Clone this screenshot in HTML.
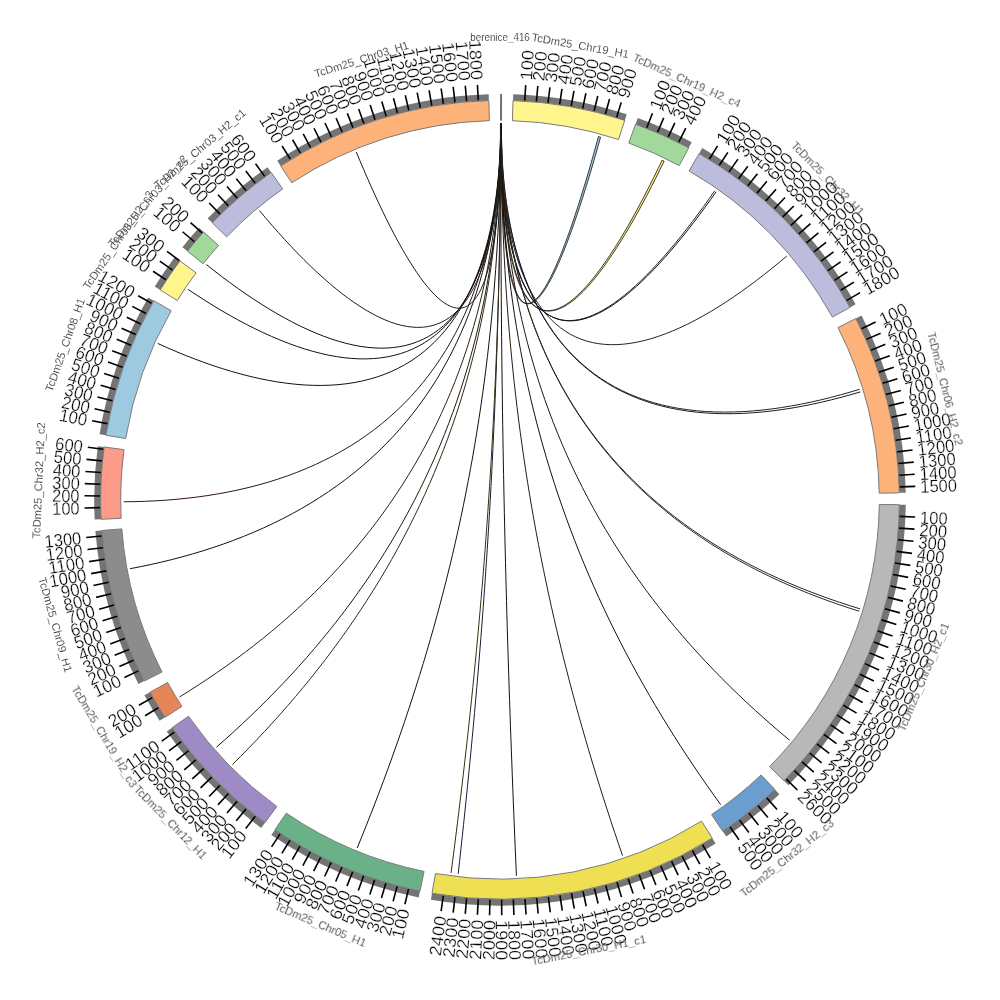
<!DOCTYPE html>
<html><head><meta charset="utf-8"><title>circos</title><style>html,body{margin:0;padding:0;background:#fff}svg{display:block}</style></head><body>
<svg width="1000" height="1000" viewBox="0 0 1000 1000">
<rect width="1000" height="1000" fill="#fff"/>
<path d="M500.46 123.5L500.47 132.93L500.52 142.33L500.62 151.68L500.77 160.94L500.97 170.09L501.22 179.1L501.52 187.95L501.88 196.61L502.31 205.06L502.79 213.27L503.33 221.23L503.93 228.92L504.6 236.31L505.34 243.4L506.14 250.15L507 256.56L507.94 262.61L508.94 268.28L510.01 273.57L511.14 278.46L512.35 282.94L513.63 287.01L514.97 290.64L516.38 293.84L517.86 296.6L519.4 298.9L521.01 300.76L522.69 302.16L524.43 303.09L526.24 303.57L528.1 303.58L530.03 303.14L532.01 302.23L534.05 300.86L536.15 299.04L538.3 296.77L540.5 294.05L542.75 290.9L545.05 287.32L547.39 283.31L549.77 278.89L552.19 274.07L554.65 268.85L557.14 263.26L559.66 257.3L562.21 251L564.78 244.36L567.36 237.4L569.97 230.14L572.58 222.6L575.2 214.8L577.83 206.76L580.45 198.5L583.07 190.05L585.68 181.42L588.27 172.64L590.85 163.74L593.4 154.75L595.92 145.69L598.41 136.6L600.56 137.19L598.02 146.27L595.45 155.31L592.84 164.29L590.21 173.17L587.56 181.93L584.9 190.55L582.22 198.99L579.55 207.23L576.87 215.26L574.19 223.04L571.53 230.57L568.87 237.81L566.24 244.75L563.62 251.38L561.03 257.67L558.46 263.61L555.93 269.18L553.43 274.38L550.97 279.19L548.54 283.6L546.16 287.59L543.83 291.16L541.54 294.3L539.31 297L537.13 299.26L535 301.07L532.93 302.42L530.92 303.32L528.97 303.76L527.08 303.73L525.26 303.24L523.5 302.3L521.81 300.89L520.19 299.02L518.63 296.71L517.14 293.94L515.72 290.74L514.38 287.09L513.1 283.02L511.89 278.53L510.75 273.64L509.68 268.34L508.69 262.66L507.76 256.6L506.9 250.19L506.11 243.43L505.39 236.35L504.73 228.95L504.14 221.26L503.61 213.29L503.15 205.08L502.75 196.62L502.41 187.96L502.12 179.11L501.89 170.1L501.72 160.95L501.6 151.69L501.52 142.34L501.49 132.93L501.51 123.5Z" fill="#9ecae1" stroke="#111" stroke-width="0.8" stroke-linejoin="round"/>
<path d="M500.46 123.5L500.48 132.98L500.58 142.45L500.75 151.86L501 161.19L501.33 170.42L501.75 179.52L502.26 188.47L502.87 197.24L503.57 205.81L504.37 214.16L505.26 222.27L506.27 230.11L507.38 237.68L508.59 244.95L509.91 251.9L511.34 258.53L512.89 264.81L514.54 270.73L516.31 276.28L518.18 281.45L520.18 286.22L522.28 290.59L524.49 294.55L526.82 298.09L529.26 301.2L531.8 303.88L534.46 306.12L537.22 307.93L540.09 309.28L543.06 310.19L546.13 310.66L549.31 310.67L552.58 310.24L555.94 309.36L559.39 308.05L562.94 306.29L566.56 304.11L570.27 301.49L574.05 298.46L577.91 295.01L581.84 291.16L585.83 286.92L589.88 282.29L593.98 277.29L598.13 271.94L602.33 266.24L606.57 260.21L610.83 253.86L615.13 247.22L619.44 240.29L623.77 233.11L628.1 225.68L632.43 218.03L636.76 210.18L641.07 202.16L645.35 193.98L649.61 185.66L653.83 177.25L658 168.76L662.12 160.21L664.13 161.18L659.96 169.7L655.74 178.17L651.47 186.56L647.16 194.85L642.82 203L638.46 211L634.09 218.83L629.7 226.45L625.32 233.85L620.94 241.01L616.58 247.91L612.24 254.53L607.93 260.85L603.65 266.85L599.41 272.53L595.22 277.86L591.07 282.83L586.98 287.44L582.95 291.66L578.99 295.48L575.1 298.91L571.28 301.92L567.54 304.51L563.89 306.68L560.32 308.41L556.84 309.71L553.45 310.56L550.16 310.97L546.96 310.94L543.87 310.46L540.88 309.53L538 308.16L535.22 306.34L532.56 304.08L530 301.39L527.56 298.26L525.22 294.71L523.01 290.73L520.9 286.35L518.91 281.56L517.04 276.38L515.27 270.82L513.63 264.89L512.09 258.6L510.67 251.97L509.36 245.01L508.15 237.73L507.06 230.16L506.07 222.31L505.19 214.19L504.41 205.84L503.73 197.26L503.14 188.49L502.66 179.54L502.26 170.43L501.95 161.2L501.72 151.86L501.58 142.45L501.51 132.99L501.51 123.5Z" fill="#fff176" stroke="#111" stroke-width="0.8" stroke-linejoin="round"/>
<g fill="none" stroke-width="1" stroke-linejoin="round">
<path d="M500.62 123.5L500.65 133.05L500.78 142.59L501 152.09L501.33 161.52L501.77 170.85L502.33 180.07L503.01 189.15L503.8 198.06L504.73 206.79L505.78 215.31L506.97 223.61L508.3 231.66L509.76 239.45L511.37 246.96L513.11 254.17L515 261.08L517.04 267.65L519.23 273.89L521.56 279.78L524.04 285.3L526.67 290.46L529.45 295.23L532.37 299.6L535.45 303.58L538.67 307.15L542.03 310.31L545.54 313.06L549.19 315.38L552.98 317.27L556.9 318.74L560.97 319.78L565.16 320.4L569.48 320.58L573.93 320.34L578.49 319.67L583.18 318.58L587.97 317.08L592.88 315.16L597.89 312.84L602.99 310.12L608.18 307.01L613.47 303.51L618.83 299.64L624.26 295.41L629.76 290.84L635.32 285.92L640.93 280.68L646.59 275.12L652.28 269.28L658 263.15L663.74 256.77L669.5 250.14L675.25 243.28L681 236.22L686.73 228.98L692.43 221.58L698.09 214.03L703.71 206.37L709.27 198.62L714.76 190.8" stroke="#1b2a1b"/>
<path d="M501.13 123.5L501.15 133.06L501.26 142.6L501.47 152.09L501.79 161.53L502.22 170.86L502.77 180.09L503.43 189.17L504.22 198.09L505.14 206.82L506.19 215.35L507.37 223.65L508.69 231.71L510.15 239.5L511.76 247.02L513.5 254.24L515.39 261.15L517.43 267.74L519.62 273.99L521.95 279.89L524.44 285.42L527.07 290.59L529.85 295.37L532.79 299.76L535.87 303.75L539.1 307.34L542.47 310.51L545.99 313.27L549.66 315.61L553.46 317.52L557.41 319.01L561.48 320.07L565.7 320.7L570.04 320.91L574.5 320.68L579.09 320.04L583.8 318.97L588.62 317.49L593.55 315.59L598.58 313.29L603.71 310.6L608.93 307.51L614.24 304.04L619.64 300.19L625.1 295.99L630.63 291.43L636.22 286.54L641.87 281.33L647.56 275.8L653.29 269.98L659.04 263.88L664.82 257.52L670.6 250.92L676.39 244.09L682.18 237.05L687.94 229.84L693.68 222.46L699.38 214.94L705.04 207.3L710.63 199.57L716.16 191.78" stroke="#111"/>
<path d="M500.84 123.5L500.88 133.21L501.05 142.91L501.35 152.59L501.79 162.23L502.37 171.79L503.11 181.26L504.01 190.62L505.07 199.84L506.3 208.9L507.7 217.8L509.28 226.5L511.04 234.98L512.98 243.25L515.11 251.27L517.43 259.03L519.94 266.53L522.65 273.73L525.55 280.64L528.64 287.25L531.94 293.53L535.42 299.48L539.11 305.09L542.99 310.35L547.07 315.26L551.34 319.8L555.81 323.98L560.47 327.78L565.31 331.2L570.35 334.24L575.56 336.9L580.96 339.16L586.53 341.04L592.27 342.53L598.18 343.63L604.25 344.34L610.48 344.67L616.86 344.62L623.39 344.18L630.05 343.37L636.85 342.19L643.77 340.65L650.81 338.75L657.96 336.5L665.21 333.91L672.55 330.98L679.98 327.74L687.48 324.19L695.04 320.33L702.66 316.19L710.32 311.78L718.01 307.11L725.73 302.19L733.45 297.04L741.17 291.69L748.88 286.13L756.56 280.4L764.2 274.52L771.79 268.49L779.3 262.35L786.74 256.11" stroke="#1a2433"/>
<path d="M501.35 123.5L501.39 133.54L501.59 143.61L501.95 153.69L502.49 163.76L503.21 173.8L504.13 183.79L505.23 193.72L506.55 203.58L508.06 213.33L509.8 222.97L511.75 232.49L513.92 241.86L516.32 251.08L518.95 260.13L521.82 269L524.92 277.68L528.26 286.15L531.85 294.4L535.67 302.43L539.74 310.22L544.05 317.77L548.61 325.06L553.4 332.1L558.45 338.86L563.73 345.35L569.26 351.55L575.02 357.47L581.02 363.09L587.25 368.42L593.71 373.45L600.39 378.17L607.3 382.59L614.43 386.7L621.76 390.49L629.3 393.98L637.04 397.15L644.98 400.01L653.1 402.56L661.41 404.81L669.88 406.74L678.52 408.37L687.31 409.7L696.25 410.73L705.32 411.47L714.53 411.92L723.85 412.09L733.27 411.98L742.79 411.6L752.39 410.96L762.06 410.07L771.79 408.93L781.57 407.55L791.38 405.94L801.2 404.12L811.03 402.09L820.85 399.87L830.64 397.46L840.39 394.89L850.08 392.15L859.7 389.28" stroke="#222"/>
<path d="M501.06 123.5L501.11 133.55L501.31 143.63L501.69 153.71L502.24 163.79L502.97 173.84L503.89 183.85L505.01 193.79L506.33 203.65L507.86 213.42L509.6 223.08L511.57 232.61L513.75 242L516.17 251.24L518.81 260.31L521.69 269.2L524.8 277.9L528.16 286.39L531.75 294.67L535.59 302.73L539.68 310.55L544 318.13L548.57 325.45L553.39 332.52L558.45 339.32L563.75 345.84L569.29 352.09L575.07 358.04L581.08 363.71L587.33 369.08L593.81 374.15L600.51 378.92L607.44 383.39L614.58 387.55L621.94 391.39L629.5 394.93L637.26 398.16L645.21 401.08L653.36 403.69L661.68 405.99L670.17 407.98L678.83 409.67L687.65 411.06L696.61 412.16L705.71 412.96L714.93 413.48L724.27 413.71L733.72 413.67L743.26 413.36L752.89 412.78L762.58 411.96L772.34 410.89L782.14 409.58L791.97 408.04L801.82 406.29L811.68 404.33L821.52 402.17L831.34 399.84L841.12 397.33L850.84 394.66L860.49 391.85" stroke="#1a1a2a"/>
<path d="M500.77 123.5L500.82 134.21L501.04 144.98L501.41 155.8L501.96 166.67L502.69 177.56L503.61 188.47L504.71 199.39L506.02 210.31L507.52 221.22L509.23 232.1L511.16 242.95L513.3 253.75L515.66 264.51L518.24 275.21L521.05 285.84L524.09 296.39L527.36 306.86L530.86 317.24L534.6 327.52L538.58 337.69L542.79 347.75L547.24 357.69L551.92 367.5L556.85 377.18L562.01 386.73L567.41 396.12L573.04 405.38L578.9 414.47L585 423.41L591.32 432.19L597.87 440.8L604.64 449.23L611.63 457.5L618.83 465.58L626.25 473.49L633.87 481.21L641.69 488.74L649.71 496.09L657.92 503.25L666.31 510.21L674.88 516.98L683.62 523.55L692.53 529.93L701.58 536.12L710.79 542.1L720.14 547.89L729.62 553.48L739.22 558.88L748.93 564.08L758.75 569.09L768.65 573.9L778.64 578.53L788.71 582.96L798.83 587.2L809 591.26L819.2 595.14L829.43 598.83L839.68 602.35L849.92 605.7L860.14 608.88" stroke="#1a2630"/>
<path d="M501.27 123.5L501.31 134.22L501.51 145L501.87 155.83L502.41 166.7L503.12 177.6L504.02 188.52L505.11 199.45L506.39 210.38L507.88 221.3L509.58 232.19L511.48 243.06L513.61 253.88L515.95 264.65L518.51 275.37L521.3 286.02L524.32 296.59L527.57 307.08L531.05 317.48L534.77 327.78L538.72 337.98L542.91 348.07L547.34 358.03L552.01 367.88L556.91 377.59L562.04 387.16L567.42 396.6L573.03 405.88L578.87 415.02L584.94 423.99L591.24 432.81L597.76 441.46L604.51 449.94L611.48 458.25L618.66 466.38L626.05 474.33L633.64 482.1L641.44 489.68L649.44 497.08L657.62 504.29L665.99 511.31L674.54 518.13L683.25 524.77L692.13 531.2L701.17 537.44L710.35 543.49L719.68 549.34L729.13 555L738.71 560.46L748.4 565.72L758.2 570.79L768.08 575.67L778.05 580.36L788.09 584.86L798.2 589.17L808.35 593.3L818.54 597.25L828.75 601.01L838.98 604.6L849.2 608.02L859.41 611.26" stroke="#3a2414"/>
<path d="M500.99 123.5L501.02 134.75L501.18 146.06L501.47 157.44L501.89 168.87L502.46 180.35L503.18 191.88L504.04 203.44L505.06 215.03L506.24 226.65L507.58 238.28L509.09 249.92L510.77 261.57L512.62 273.22L514.64 284.86L516.84 296.49L519.22 308.11L521.78 319.7L524.52 331.26L527.45 342.79L530.56 354.29L533.86 365.74L537.35 377.14L541.02 388.49L544.88 399.79L548.93 411.02L553.16 422.19L557.59 433.29L562.19 444.32L566.98 455.26L571.96 466.13L577.11 476.91L582.45 487.61L587.96 498.21L593.65 508.71L599.51 519.12L605.54 529.43L611.74 539.63L618.1 549.72L624.62 559.71L631.3 569.58L638.13 579.33L645.11 588.97L652.23 598.48L659.48 607.88L666.88 617.15L674.39 626.29L682.04 635.3L689.79 644.19L697.66 652.94L705.64 661.56L713.71 670.04L721.87 678.39L730.11 686.6L738.43 694.67L746.82 702.61L755.28 710.4L763.78 718.05L772.33 725.57L780.91 732.94L789.53 740.17" stroke="#2a1410"/>
<path d="M500.7 123.5L500.72 135.11L500.84 146.78L501.06 158.5L501.39 170.29L501.82 182.12L502.36 193.99L503.02 205.91L503.79 217.86L504.68 229.85L505.69 241.87L506.82 253.91L508.08 265.97L509.47 278.04L511 290.13L512.65 302.23L514.43 314.33L516.36 326.44L518.41 338.54L520.61 350.64L522.95 362.73L525.42 374.8L528.04 386.86L530.79 398.9L533.69 410.92L536.72 422.91L539.9 434.87L543.22 446.8L546.68 458.69L550.28 470.54L554.02 482.36L557.89 494.12L561.91 505.84L566.06 517.51L570.34 529.13L574.76 540.69L579.31 552.19L583.99 563.63L588.79 575.01L593.73 586.32L598.78 597.56L603.96 608.73L609.25 619.83L614.66 630.85L620.18 641.79L625.81 652.66L631.55 663.44L637.39 674.13L643.32 684.74L649.35 695.26L655.47 705.69L661.68 716.03L667.97 726.27L674.33 736.42L680.77 746.47L687.28 756.42L693.85 766.26L700.48 776.01L707.16 785.65L713.88 795.19L720.65 804.62" stroke="#111"/>
<path d="M501.2 123.5L501.19 135.54L501.23 147.63L501.33 159.75L501.48 171.91L501.69 184.11L501.96 196.34L502.3 208.6L502.7 220.89L503.16 233.21L503.69 245.55L504.29 257.92L504.95 270.31L505.69 282.72L506.5 295.15L507.38 307.59L508.33 320.05L509.35 332.52L510.45 345L511.63 357.48L512.88 369.98L514.21 382.48L515.61 394.98L517.09 407.48L518.65 419.99L520.29 432.49L522 444.98L523.8 457.47L525.67 469.95L527.61 482.43L529.64 494.89L531.74 507.34L533.92 519.77L536.18 532.19L538.51 544.59L540.92 556.97L543.4 569.33L545.96 581.67L548.59 593.98L551.29 606.27L554.07 618.53L556.91 630.76L559.83 642.96L562.81 655.13L565.86 667.26L568.98 679.36L572.16 691.42L575.4 703.44L578.71 715.43L582.08 727.37L585.5 739.27L588.98 751.12L592.51 762.93L596.1 774.69L599.74 786.41L603.43 798.07L607.16 809.69L610.94 821.25L614.76 832.75L618.62 844.2L622.51 855.6" stroke="#2a1810"/>
<path d="M500.91 123.5L500.89 135.98L500.87 148.46L500.86 160.95L500.85 173.44L500.86 185.94L500.87 198.45L500.89 210.96L500.92 223.48L500.96 236L501.01 248.52L501.07 261.06L501.13 273.59L501.21 286.13L501.29 298.68L501.39 311.23L501.5 323.78L501.61 336.33L501.74 348.89L501.87 361.45L502.02 374.01L502.18 386.58L502.35 399.14L502.52 411.71L502.71 424.28L502.91 436.85L503.12 449.42L503.34 462L503.58 474.57L503.82 487.14L504.07 499.72L504.34 512.29L504.61 524.86L504.9 537.43L505.2 550.01L505.5 562.58L505.82 575.14L506.15 587.71L506.49 600.28L506.84 612.84L507.2 625.4L507.57 637.96L507.95 650.51L508.34 663.06L508.75 675.61L509.16 688.16L509.58 700.7L510.01 713.24L510.45 725.77L510.9 738.3L511.36 750.82L511.83 763.34L512.3 775.85L512.79 788.36L513.28 800.86L513.79 813.36L514.3 825.85L514.81 838.33L515.34 850.81L515.87 863.28L516.41 875.74" stroke="#111"/>
<path d="M500.62 123.5L500.59 135.88L500.55 148.27L500.48 160.69L500.4 173.11L500.29 185.55L500.17 198L500.03 210.46L499.86 222.94L499.68 235.43L499.47 247.92L499.24 260.43L498.98 272.95L498.71 285.48L498.41 298.01L498.09 310.56L497.74 323.11L497.37 335.67L496.98 348.23L496.56 360.8L496.11 373.37L495.64 385.95L495.15 398.53L494.63 411.12L494.08 423.7L493.51 436.29L492.92 448.88L492.3 461.48L491.65 474.07L490.97 486.66L490.28 499.25L489.55 511.84L488.8 524.43L488.02 537.01L487.22 549.59L486.39 562.17L485.54 574.74L484.66 587.31L483.76 599.88L482.83 612.43L481.88 624.98L480.9 637.53L479.9 650.06L478.88 662.59L477.83 675.11L476.76 687.62L475.67 700.12L474.55 712.61L473.41 725.09L472.25 737.55L471.07 750.01L469.86 762.45L468.64 774.88L467.4 787.29L466.14 799.69L464.85 812.08L463.55 824.45L462.24 836.81L460.9 849.14L459.55 861.47L458.18 873.77" stroke="#1a1a3a"/>
<path d="M501.13 123.5L501.08 135.85L501.01 148.23L500.93 160.61L500.81 173.02L500.68 185.44L500.52 197.87L500.34 210.32L500.14 222.79L499.91 235.26L499.65 247.75L499.37 260.25L499.07 272.76L498.73 285.28L498.37 297.82L497.98 310.36L497.57 322.9L497.12 335.46L496.65 348.02L496.15 360.59L495.62 373.16L495.06 385.74L494.47 398.32L493.86 410.91L493.21 423.5L492.53 436.09L491.83 448.68L491.09 461.27L490.33 473.86L489.53 486.46L488.7 499.05L487.85 511.63L486.96 524.22L486.05 536.8L485.1 549.38L484.13 561.95L483.12 574.52L482.09 587.09L481.03 599.64L479.94 612.19L478.82 624.73L477.67 637.26L476.5 649.79L475.29 662.3L474.07 674.8L472.81 687.29L471.53 699.77L470.22 712.24L468.88 724.7L467.52 737.14L466.14 749.56L464.73 761.97L463.3 774.37L461.84 786.75L460.37 799.11L458.87 811.46L457.35 823.79L455.81 836.1L454.25 848.39L452.67 860.66L451.08 872.91" stroke="#33300f"/>
<path d="M500.84 123.5L500.78 135.47L500.67 147.48L500.48 159.53L500.24 171.62L499.92 183.76L499.53 195.93L499.08 208.13L498.55 220.37L497.94 232.64L497.26 244.93L496.5 257.24L495.66 269.58L494.73 281.94L493.73 294.32L492.64 306.72L491.47 319.12L490.22 331.54L488.87 343.97L487.45 356.4L485.93 368.84L484.33 381.28L482.63 393.72L480.85 406.17L478.98 418.6L477.02 431.03L474.97 443.46L472.83 455.87L470.6 468.27L468.28 480.66L465.88 493.03L463.38 505.39L460.8 517.73L458.13 530.04L455.37 542.33L452.52 554.6L449.59 566.84L446.58 579.05L443.48 591.23L440.29 603.37L437.03 615.49L433.69 627.56L430.26 639.6L426.76 651.6L423.19 663.56L419.53 675.47L415.81 687.34L412.02 699.17L408.15 710.94L404.22 722.67L400.22 734.35L396.17 745.97L392.05 757.54L387.87 769.05L383.64 780.51L379.35 791.91L375.01 803.24L370.63 814.52L366.2 825.73L361.72 836.88L357.21 847.96" stroke="#111"/>
<path d="M501.35 123.5L501.25 134.88L501.04 146.32L500.7 157.83L500.24 169.39L499.65 181L498.93 192.66L498.07 204.35L497.06 216.08L495.91 227.83L494.62 239.61L493.17 251.4L491.56 263.21L489.8 275.02L487.89 286.83L485.81 298.64L483.56 310.44L481.15 322.23L478.58 334L475.84 345.75L472.92 357.47L469.84 369.16L466.59 380.82L463.17 392.43L459.57 404.01L455.81 415.53L451.87 427L447.77 438.42L443.49 449.78L439.05 461.07L434.44 472.3L429.66 483.46L424.72 494.55L419.61 505.56L414.34 516.49L408.92 527.34L403.34 538.1L397.6 548.77L391.71 559.36L385.68 569.85L379.5 580.24L373.18 590.53L366.72 600.72L360.13 610.8L353.41 620.78L346.56 630.66L339.6 640.42L332.52 650.06L325.32 659.6L318.03 669.01L310.63 678.31L303.14 687.49L295.56 696.55L287.9 705.48L280.16 714.29L272.35 722.98L264.48 731.54L256.56 739.97L248.59 748.27L240.57 756.44L232.53 764.49" stroke="#2c2c10"/>
<path d="M501.06 123.5L500.97 134.79L500.75 146.14L500.41 157.56L499.93 169.03L499.31 180.55L498.56 192.12L497.65 203.72L496.59 215.35L495.38 227.01L494.02 238.68L492.48 250.37L490.79 262.07L488.93 273.76L486.9 285.45L484.69 297.14L482.31 308.8L479.76 320.45L477.03 332.07L474.12 343.67L471.03 355.23L467.76 366.75L464.3 378.22L460.67 389.65L456.85 401.02L452.85 412.34L448.67 423.59L444.31 434.78L439.77 445.9L435.04 456.95L430.14 467.92L425.07 478.81L419.82 489.62L414.39 500.33L408.8 510.96L403.04 521.49L397.11 531.93L391.02 542.27L384.77 552.5L378.36 562.63L371.8 572.65L365.1 582.56L358.25 592.35L351.26 602.03L344.13 611.59L336.88 621.03L329.49 630.35L321.99 639.55L314.38 648.62L306.66 657.56L298.83 666.38L290.91 675.06L282.9 683.61L274.8 692.03L266.63 700.32L258.39 708.47L250.09 716.48L241.74 724.36L233.34 732.1L224.9 739.71L216.43 747.17" stroke="#2a1414"/>
<path d="M500.77 123.5L500.68 134.55L500.45 145.68L500.07 156.86L499.54 168.1L498.86 179.38L498.01 190.7L496.99 202.04L495.8 213.41L494.44 224.79L492.89 236.17L491.16 247.55L489.24 258.93L487.13 270.29L484.82 281.62L482.32 292.93L479.61 304.2L476.71 315.43L473.6 326.61L470.29 337.74L466.77 348.81L463.04 359.82L459.11 370.75L454.97 381.61L450.62 392.39L446.06 403.08L441.3 413.68L436.33 424.19L431.15 434.59L425.78 444.9L420.2 455.09L414.42 465.18L408.44 475.14L402.27 484.99L395.9 494.72L389.35 504.31L382.61 513.78L375.69 523.12L368.59 532.32L361.32 541.39L353.88 550.31L346.28 559.1L338.52 567.73L330.61 576.22L322.55 584.57L314.35 592.76L306.01 600.8L297.55 608.68L288.96 616.42L280.27 623.99L271.46 631.42L262.56 638.68L253.57 645.79L244.5 652.74L235.36 659.53L226.15 666.16L216.89 672.64L207.58 678.96L198.24 685.12L188.87 691.13L179.5 696.98" stroke="#2a2410"/>
<path d="M501.27 123.5L501.16 134.08L500.88 144.71L500.44 155.4L499.81 166.11L499 176.84L498 187.58L496.8 198.32L495.4 209.04L493.79 219.73L491.97 230.39L489.93 241L487.66 251.55L485.17 262.03L482.45 272.43L479.5 282.74L476.31 292.96L472.88 303.07L469.21 313.07L465.3 322.95L461.14 332.7L456.74 342.31L452.1 351.78L447.21 361.1L442.08 370.26L436.71 379.26L431.09 388.09L425.24 396.75L419.14 405.22L412.81 413.52L406.25 421.63L399.45 429.54L392.43 437.26L385.19 444.78L377.72 452.1L370.04 459.21L362.16 466.11L354.07 472.81L345.78 479.29L337.3 485.56L328.63 491.61L319.79 497.45L310.78 503.08L301.6 508.48L292.27 513.67L282.79 518.65L273.18 523.41L263.43 527.96L253.57 532.29L243.6 536.42L233.53 540.33L223.38 544.04L213.15 547.55L202.86 550.85L192.51 553.96L182.12 556.88L171.71 559.6L161.28 562.14L150.86 564.5L140.45 566.68L130.06 568.7" stroke="#111"/>
<path d="M500.99 123.5L500.88 133.87L500.61 144.28L500.16 154.73L499.53 165.19L498.71 175.66L497.7 186.12L496.49 196.55L495.06 206.94L493.42 217.28L491.56 227.56L489.48 237.76L487.17 247.88L484.62 257.89L481.84 267.79L478.82 277.58L475.55 287.23L472.04 296.74L468.29 306.09L464.28 315.29L460.02 324.33L455.52 333.18L450.76 341.85L445.75 350.33L440.49 358.62L434.99 366.69L429.23 374.56L423.23 382.21L416.99 389.65L410.5 396.85L403.78 403.83L396.82 410.57L389.63 417.07L382.21 423.34L374.58 429.36L366.72 435.13L358.66 440.66L350.39 445.94L341.92 450.97L333.26 455.75L324.42 460.28L315.4 464.56L306.21 468.59L296.86 472.37L287.36 475.91L277.72 479.2L267.95 482.25L258.05 485.06L248.05 487.63L237.94 489.97L227.74 492.08L217.47 493.96L207.13 495.63L196.74 497.08L186.31 498.32L175.86 499.36L165.39 500.21L154.93 500.86L144.48 501.34L134.07 501.64L123.71 501.77" stroke="#301510"/>
<path d="M500.7 123.5L500.61 133.42L500.36 143.37L499.96 153.31L499.39 163.23L498.65 173.11L497.72 182.92L496.61 192.66L495.31 202.29L493.8 211.81L492.1 221.2L490.18 230.43L488.05 239.5L485.7 248.4L483.14 257.1L480.35 265.59L477.33 273.86L474.09 281.9L470.61 289.69L466.91 297.24L462.97 304.51L458.8 311.52L454.4 318.24L449.77 324.66L444.9 330.8L439.81 336.62L434.49 342.13L428.94 347.33L423.17 352.2L417.18 356.75L410.97 360.97L404.54 364.85L397.91 368.4L391.07 371.61L384.04 374.49L376.81 377.02L369.39 379.22L361.79 381.09L354.01 382.62L346.07 383.81L337.96 384.68L329.71 385.22L321.31 385.44L312.78 385.35L304.12 384.94L295.34 384.23L286.46 383.22L277.48 381.93L268.42 380.35L259.29 378.5L250.09 376.39L240.85 374.03L231.57 371.42L222.27 368.59L212.96 365.54L203.66 362.29L194.37 358.84L185.12 355.22L175.91 351.44L166.78 347.51L157.72 343.45" stroke="#111"/>
<path d="M501.2 123.5L501.1 133.29L500.87 143.09L500.49 152.87L499.95 162.61L499.26 172.3L498.4 181.9L497.37 191.4L496.16 200.78L494.77 210.02L493.19 219.1L491.42 228L489.45 236.72L487.29 245.22L484.92 253.5L482.35 261.54L479.58 269.33L476.59 276.86L473.39 284.11L469.98 291.07L466.36 297.73L462.53 304.09L458.48 310.12L454.22 315.83L449.75 321.21L445.07 326.24L440.19 330.93L435.09 335.27L429.79 339.24L424.29 342.86L418.6 346.11L412.71 349L406.62 351.52L400.36 353.66L393.91 355.44L387.28 356.85L380.49 357.9L373.53 358.57L366.42 358.89L359.15 358.84L351.74 358.45L344.19 357.7L336.52 356.61L328.73 355.18L320.82 353.42L312.82 351.34L304.72 348.95L296.54 346.25L288.29 343.26L279.98 340L271.62 336.46L263.22 332.66L254.79 328.62L246.36 324.35L237.92 319.87L229.49 315.18L221.09 310.32L212.73 305.28L204.42 300.1L196.19 294.79L188.03 289.38" stroke="#111"/>
<path d="M500.91 123.5L500.83 133.23L500.61 142.96L500.26 152.67L499.76 162.33L499.11 171.93L498.31 181.43L497.34 190.82L496.21 200.09L494.9 209.2L493.42 218.14L491.75 226.89L489.91 235.44L487.87 243.76L485.64 251.85L483.22 259.68L480.61 267.25L477.8 274.54L474.79 281.54L471.58 288.23L468.16 294.61L464.55 300.66L460.74 306.38L456.72 311.75L452.51 316.78L448.1 321.45L443.49 325.75L438.69 329.69L433.7 333.25L428.51 336.44L423.14 339.24L417.59 341.67L411.85 343.71L405.95 345.36L399.87 346.63L393.63 347.52L387.22 348.03L380.67 348.16L373.96 347.92L367.12 347.3L360.14 346.32L353.03 344.98L345.8 343.28L338.47 341.24L331.02 338.86L323.49 336.15L315.87 333.12L308.17 329.78L300.41 326.15L292.6 322.23L284.74 318.03L276.84 313.58L268.93 308.88L261 303.96L253.08 298.82L245.17 293.49L237.29 287.97L229.45 282.3L221.67 276.49L213.96 270.55L206.32 264.52" stroke="#111"/>
<path d="M500.62 123.5L500.56 133.1L500.38 142.69L500.1 152.24L499.69 161.73L499.16 171.14L498.5 180.43L497.71 189.6L496.79 198.6L495.71 207.43L494.5 216.07L493.13 224.49L491.62 232.67L489.94 240.6L488.12 248.27L486.13 255.65L483.98 262.73L481.66 269.5L479.19 275.94L476.55 282.04L473.74 287.8L470.77 293.19L467.63 298.22L464.33 302.86L460.86 307.12L457.23 310.99L453.44 314.45L449.49 317.52L445.38 320.17L441.12 322.41L436.7 324.24L432.13 325.65L427.42 326.65L422.56 327.23L417.56 327.39L412.43 327.14L407.17 326.48L401.78 325.41L396.28 323.94L390.66 322.08L384.93 319.82L379.09 317.18L373.16 314.17L367.15 310.79L361.05 307.05L354.87 302.97L348.63 298.56L342.33 293.83L335.98 288.79L329.59 283.45L323.17 277.84L316.72 271.97L310.26 265.86L303.8 259.52L297.34 252.97L290.91 246.23L284.5 239.33L278.13 232.28L271.81 225.1L265.56 217.83L259.38 210.48" stroke="#2a1a10"/>
<path d="M501.13 123.5L501.07 132.97L500.95 142.41L500.76 151.8L500.49 161.11L500.16 170.31L499.74 179.38L499.25 188.3L498.67 197.03L498.01 205.56L497.26 213.86L496.42 221.92L495.49 229.71L494.47 237.21L493.35 244.42L492.14 251.3L490.83 257.85L489.42 264.05L487.92 269.89L486.31 275.35L484.61 280.42L482.81 285.09L480.91 289.36L478.91 293.21L476.81 296.63L474.61 299.62L472.32 302.17L469.94 304.27L467.45 305.93L464.88 307.15L462.22 307.91L459.46 308.21L456.62 308.07L453.7 307.47L450.69 306.43L447.6 304.93L444.44 303L441.2 300.63L437.89 297.83L434.51 294.6L431.07 290.96L427.58 286.91L424.02 282.47L420.42 277.64L416.76 272.44L413.07 266.87L409.34 260.96L405.57 254.72L401.78 248.16L397.96 241.3L394.13 234.17L390.29 226.77L386.45 219.13L382.6 211.26L378.77 203.2L374.95 194.97L371.15 186.58L367.37 178.06L363.64 169.45L359.94 160.76L356.3 152.02" stroke="#101c2c"/>
</g>
<g stroke="#7a7a7a" stroke-width="1">
<path d="M513.03 100.61A399.4 399.4 0 0 1 624.75 120.38L618.47 139.48A379.3 379.3 0 0 0 512.38 120.7Z" fill="#fff58c"/>
<path d="M635.62 124.13A399.4 399.4 0 0 1 688.74 147.81L679.24 165.52A379.3 379.3 0 0 0 628.79 143.04Z" fill="#a1d99b"/>
<path d="M699.1 153.56A399.4 399.4 0 0 1 850 307.39L832.38 317.07A379.3 379.3 0 0 0 689.08 170.99Z" fill="#bcbddc"/>
<path d="M855.87 318.48A399.4 399.4 0 0 1 899.34 492.83L879.24 493.18A379.3 379.3 0 0 0 837.96 327.6Z" fill="#fdb27a"/>
<path d="M899.37 504.68A399.4 399.4 0 0 1 783.89 780.74L769.61 766.6A379.3 379.3 0 0 0 879.27 504.43Z" fill="#b8b8b8"/>
<path d="M774.93 789.51A399.4 399.4 0 0 1 722.76 831.31L711.55 814.62A379.3 379.3 0 0 0 761.09 774.93Z" fill="#6b9ecf"/>
<path d="M712.24 838.14A399.4 399.4 0 0 1 432.02 893.37L435.44 873.57A379.3 379.3 0 0 0 701.56 821.11Z" fill="#eee052"/>
<path d="M420.03 891.11A399.4 399.4 0 0 1 274.93 829.74L286.25 813.14A379.3 379.3 0 0 0 424.06 871.42Z" fill="#6ab187"/>
<path d="M264.96 822.72A399.4 399.4 0 0 1 172.03 727.74L188.54 716.27A379.3 379.3 0 0 0 276.79 806.47Z" fill="#9e8ac4"/>
<path d="M165.03 717.33A399.4 399.4 0 0 1 150 692.21L167.62 682.53A379.3 379.3 0 0 0 181.89 706.38Z" fill="#e68557"/>
<path d="M144.13 681.12A399.4 399.4 0 0 1 101.78 530.44L121.82 528.9A379.3 379.3 0 0 0 162.04 672Z" fill="#8c8c8c"/>
<path d="M101.08 519.31A399.4 399.4 0 0 1 104.11 446.98L124.03 449.64A379.3 379.3 0 0 0 121.15 518.33Z" fill="#fc9b88"/>
<path d="M105.85 435.26A399.4 399.4 0 0 1 153.76 300.7L171.19 310.72A379.3 379.3 0 0 0 125.69 438.5Z" fill="#9ecae1"/>
<path d="M160.19 289.93A399.4 399.4 0 0 1 179.98 260.83L196.08 272.86A379.3 379.3 0 0 0 177.29 300.49Z" fill="#fff58c"/>
<path d="M187.43 251.17A399.4 399.4 0 0 1 203.65 232.03L218.57 245.51A379.3 379.3 0 0 0 203.16 263.68Z" fill="#a1d99b"/>
<path d="M212.21 222.86A399.4 399.4 0 0 1 271.2 172.43L282.71 188.91A379.3 379.3 0 0 0 226.69 236.79Z" fill="#bcbddc"/>
<path d="M280.72 165.98A399.4 399.4 0 0 1 488.85 100.56L489.41 120.65A379.3 379.3 0 0 0 291.76 182.78Z" fill="#fdb27a"/>
</g>
<path d="M500.99 120.5L501.06 94" stroke="#707070" stroke-width="2"/>
<g fill="#747474">
<path d="M513.24 94.22A405.8 405.8 0 0 1 626.75 114.3L624.75 120.38A399.4 399.4 0 0 0 513.03 100.61Z"/>
<path d="M637.79 118.11A405.8 405.8 0 0 1 691.76 142.17L688.74 147.81A399.4 399.4 0 0 0 635.62 124.13Z"/>
<path d="M702.29 148.01A405.8 405.8 0 0 1 855.61 304.3L850 307.39A399.4 399.4 0 0 0 699.1 153.56Z"/>
<path d="M861.57 315.57A405.8 405.8 0 0 1 905.74 492.72L899.34 492.83A399.4 399.4 0 0 0 855.87 318.48Z"/>
<path d="M905.77 504.76A405.8 405.8 0 0 1 788.44 785.24L783.89 780.74A399.4 399.4 0 0 0 899.37 504.68Z"/>
<path d="M779.33 794.16A405.8 405.8 0 0 1 726.33 836.62L722.76 831.31A399.4 399.4 0 0 0 774.93 789.51Z"/>
<path d="M715.64 843.56A405.8 405.8 0 0 1 430.93 899.68L432.02 893.37A399.4 399.4 0 0 0 712.24 838.14Z"/>
<path d="M418.75 897.38A405.8 405.8 0 0 1 271.32 835.03L274.93 829.74A399.4 399.4 0 0 0 420.03 891.11Z"/>
<path d="M261.19 827.89A405.8 405.8 0 0 1 166.78 731.4L172.03 727.74A399.4 399.4 0 0 0 264.96 822.72Z"/>
<path d="M159.67 720.81A405.8 405.8 0 0 1 144.39 695.3L150 692.21A399.4 399.4 0 0 0 165.03 717.33Z"/>
<path d="M138.43 684.03A405.8 405.8 0 0 1 95.4 530.93L101.78 530.44A399.4 399.4 0 0 0 144.13 681.12Z"/>
<path d="M94.68 519.62A405.8 405.8 0 0 1 97.76 446.13L104.11 446.98A399.4 399.4 0 0 0 101.08 519.31Z"/>
<path d="M99.53 434.22A405.8 405.8 0 0 1 148.21 297.51L153.76 300.7A399.4 399.4 0 0 0 105.85 435.26Z"/>
<path d="M154.74 286.56A405.8 405.8 0 0 1 174.85 257L179.98 260.83A399.4 399.4 0 0 0 160.19 289.93Z"/>
<path d="M182.42 247.18A405.8 405.8 0 0 1 198.91 227.74L203.65 232.03A399.4 399.4 0 0 0 187.43 251.17Z"/>
<path d="M207.6 218.42A405.8 405.8 0 0 1 267.53 167.19L271.2 172.43A399.4 399.4 0 0 0 212.21 222.86Z"/>
<path d="M277.21 160.63A405.8 405.8 0 0 1 488.67 94.16L488.85 100.56A399.4 399.4 0 0 0 280.72 165.98Z"/>
</g>
<path d="M524.75 100.57L525.71 85.1M536.42 101.46L537.83 86.03M548.06 102.7L549.92 87.31M559.66 104.27L561.97 88.95M571.21 106.19L573.97 90.94M582.7 108.44L585.9 93.28M594.12 111.03L597.76 95.97M605.45 113.95L609.54 99M616.7 117.2L621.22 102.38M646.78 127.7L652.46 113.28M657.6 132.16L663.71 117.91M668.29 136.93L674.82 122.87M678.84 142.01L685.77 128.14M709.46 159.03L717.57 145.82M719.34 165.3L727.84 152.34M729.04 171.86L737.91 159.16M738.53 178.71L747.78 166.26M747.83 185.82L757.43 173.66M756.91 193.21L766.87 181.33M765.77 200.86L776.07 189.28M774.41 208.77L785.04 197.49M782.81 216.92L793.77 205.96M790.97 225.32L802.24 214.68M798.87 233.95L810.45 223.65M806.53 242.81L818.4 232.86M813.91 251.89L826.08 242.29M821.04 261.19L833.48 251.94M827.88 270.68L840.59 261.81M834.45 280.38L847.41 271.88M840.72 290.26L853.93 282.14M846.71 300.32L860.14 292.59M861.56 328.71L875.57 322.08M866.42 339.37L880.62 333.15M870.95 350.16L885.33 344.36M875.17 361.08L889.71 355.7M879.07 372.12L893.76 367.17M882.65 383.27L897.48 378.75M885.89 394.51L900.85 390.43M888.81 405.85L903.88 402.21M891.39 417.27L906.56 414.07M893.64 428.76L908.89 426.01M895.55 440.31L910.88 438.01M897.12 451.91L912.51 450.06M898.35 463.55L913.79 462.15M899.24 475.23L914.72 474.28M899.79 486.92L915.28 486.42M899.66 516.39L915.14 517.03M899 528.08L914.46 529.17M898 539.74L913.42 541.29M896.66 551.37L912.03 553.37M894.98 562.96L910.29 565.41M892.96 574.49L908.19 577.39M890.61 585.96L905.75 589.3M887.92 597.35L902.95 601.13M884.9 608.67L899.82 612.88M881.55 619.88L896.33 624.54M877.87 631L892.51 636.08M873.87 642L888.36 647.51M869.55 652.88L883.87 658.81M864.91 663.63L879.05 669.98M859.96 674.24L873.91 681M854.7 684.7L868.45 691.86M849.14 695L862.67 702.56M843.28 705.13L856.58 713.09M837.12 715.09L850.18 723.43M830.68 724.86L843.49 733.59M823.95 734.45L836.5 743.54M816.94 743.82L829.22 753.28M809.66 753L821.66 762.81M802.12 761.95L813.83 772.11M794.32 770.68L805.73 781.18M786.27 779.18L797.36 790M766.73 797.88L777.07 809.43M757.9 805.56L767.89 817.41M748.84 812.98L758.48 825.11M739.56 820.13L748.85 832.54M730.09 827L739 839.68M702.55 844.72L710.4 858.09M692.37 850.5L699.83 864.09M682.03 855.98L689.08 869.79M671.52 861.16L678.17 875.16M660.87 866.02L667.11 880.21M650.09 870.57L655.9 884.94M639.17 874.81L644.57 889.34M628.14 878.72L633.1 893.4M617 882.31L621.53 897.13M605.75 885.57L609.85 900.52M594.42 888.5L598.08 903.56M583 891.09L586.22 906.26M571.51 893.36L574.29 908.61M559.97 895.28L562.29 910.6M548.37 896.87L550.24 912.25M536.73 898.11L538.15 913.54M525.05 899.01L526.02 914.48M513.36 899.58L513.88 915.07M501.65 899.8L501.72 915.3M489.95 899.67L489.56 915.17M478.25 899.21L477.41 914.69M466.57 898.4L465.28 913.85M454.92 897.25L453.17 912.65M443.31 895.76L441.11 911.11M408.48 889.19L404.93 904.28M397.12 886.34L393.13 901.32M385.85 883.17L381.43 898.02M374.68 879.66L369.83 894.38M363.62 875.83L358.33 890.4M352.67 871.68L346.96 886.09M341.85 867.21L335.72 881.45M331.17 862.42L324.63 876.48M320.63 857.33L313.68 871.18M310.24 851.92L302.89 865.57M300.02 846.22L292.27 859.64M289.97 840.22L281.83 853.41M280.09 833.93L271.57 846.87M255.24 816.17L245.76 828.43M246.09 808.88L236.25 820.85M237.15 801.31L226.96 813M228.44 793.49L217.92 804.87M219.96 785.42L209.11 796.49M211.72 777.1L200.55 787.85M203.73 768.55L192.25 778.96M195.99 759.76L184.21 769.83M188.51 750.75L176.44 760.48M181.3 741.53L168.95 750.9M174.37 732.1L161.75 741.1M158.3 707.74L145.06 715.8M152.36 697.66L138.89 705.32M138.44 670.89L124.43 677.52M133.58 660.23L119.38 666.45M129.05 649.44L114.67 655.24M124.83 638.52L110.29 643.9M120.93 627.48L106.24 632.43M117.35 616.33L102.52 620.85M114.11 605.09L99.15 609.17M111.19 593.75L96.12 597.39M108.61 582.33L93.44 585.53M106.36 570.84L91.11 573.59M104.45 559.29L89.12 561.59M102.88 547.69L87.49 549.54M101.65 536.05L86.21 537.45M100.08 507.64L84.58 507.94M100.02 495.93L84.52 495.78M100.3 484.23L84.81 483.63M100.93 472.54L85.47 471.48M101.9 460.87L86.47 459.36M103.21 449.24L87.83 447.28M107.32 423.63L92.1 420.68M109.72 412.17L94.59 408.78M112.45 400.79L97.43 396.95M115.51 389.49L100.61 385.22M118.9 378.29L104.14 373.58M122.62 367.19L108 362.05M126.67 356.2L112.2 350.63M131.03 345.33L116.73 339.35M135.71 334.6L121.59 328.2M140.7 324.01L126.77 317.2M146 313.57L132.28 306.36M151.6 303.29L138.1 295.68M165.97 279.74L153.03 271.21M172.56 270.06L159.87 261.16M179.42 260.58L167 251.31M194.38 241.74L182.54 231.74M202.06 232.91L190.52 222.56M220.02 214.12L209.17 203.05M228.5 206.05L217.98 194.67M237.21 198.23L227.03 186.55M246.15 190.67L236.31 178.69M255.31 183.37L245.82 171.11M264.67 176.35L255.55 163.82M290.27 159.19L282.14 145.99M300.33 153.2L292.59 139.77M310.56 147.51L303.21 133.86M320.95 142.11L314.01 128.25M331.49 137.03L324.96 122.97M342.18 132.25L336.06 118.01M353 127.79L347.31 113.37M363.95 123.65L358.68 109.07M375.02 119.83L370.18 105.1M386.19 116.33L381.78 101.47M397.46 113.17L393.49 98.18M408.82 110.33L405.29 95.24M420.26 107.83L417.17 92.64M431.76 105.66L429.12 90.39M443.33 103.83L441.13 88.49M454.94 102.35L453.19 86.94M466.59 101.2L465.3 85.75M478.27 100.39L477.43 84.91" stroke="#000" stroke-width="1.6" fill="none"/>
<g font-family="'Liberation Sans',sans-serif" font-size="17.0" fill="#000" stroke="#fff" stroke-width="0.28" opacity="0.999">
<text transform="translate(526.02 80.11) rotate(-86.45) scale(1.059 1.000)" text-anchor="start" dy="0.358em">100</text>
<text transform="translate(538.29 81.05) rotate(-84.78) scale(1.059 1.000)" text-anchor="start" dy="0.358em">200</text>
<text transform="translate(550.52 82.35) rotate(-83.1) scale(1.059 1.001)" text-anchor="start" dy="0.358em">300</text>
<text transform="translate(562.72 84) rotate(-81.42) scale(1.059 1.001)" text-anchor="start" dy="0.358em">400</text>
<text transform="translate(574.86 86.02) rotate(-79.75) scale(1.059 1.002)" text-anchor="start" dy="0.358em">500</text>
<text transform="translate(586.94 88.39) rotate(-78.07) scale(1.059 1.002)" text-anchor="start" dy="0.358em">600</text>
<text transform="translate(598.94 91.11) rotate(-76.39) scale(1.059 1.003)" text-anchor="start" dy="0.358em">700</text>
<text transform="translate(610.86 94.18) rotate(-74.71) scale(1.059 1.003)" text-anchor="start" dy="0.358em">800</text>
<text transform="translate(622.68 97.59) rotate(-73.04) scale(1.059 1.004)" text-anchor="start" dy="0.358em">900</text>
<text transform="translate(654.3 108.63) rotate(-68.47) scale(1.059 1.007)" text-anchor="start" dy="0.358em">100</text>
<text transform="translate(665.68 113.32) rotate(-66.8) scale(1.059 1.008)" text-anchor="start" dy="0.358em">200</text>
<text transform="translate(676.92 118.33) rotate(-65.12) scale(1.059 1.009)" text-anchor="start" dy="0.358em">300</text>
<text transform="translate(688.01 123.67) rotate(-63.44) scale(1.059 1.010)" text-anchor="start" dy="0.358em">400</text>
<text transform="translate(720.19 141.56) rotate(-58.42) scale(1.059 1.014)" text-anchor="start" dy="0.358em">100</text>
<text transform="translate(730.58 148.16) rotate(-56.75) scale(1.059 1.015)" text-anchor="start" dy="0.358em">200</text>
<text transform="translate(740.77 155.06) rotate(-55.07) scale(1.059 1.016)" text-anchor="start" dy="0.358em">300</text>
<text transform="translate(750.76 162.25) rotate(-53.39) scale(1.059 1.018)" text-anchor="start" dy="0.358em">400</text>
<text transform="translate(760.53 169.73) rotate(-51.72) scale(1.059 1.019)" text-anchor="start" dy="0.358em">500</text>
<text transform="translate(770.08 177.5) rotate(-50.04) scale(1.059 1.021)" text-anchor="start" dy="0.358em">600</text>
<text transform="translate(779.39 185.54) rotate(-48.36) scale(1.057 1.022)" text-anchor="start" dy="0.358em">700</text>
<text transform="translate(788.47 193.85) rotate(-46.68) scale(1.054 1.024)" text-anchor="start" dy="0.358em">800</text>
<text transform="translate(797.3 202.43) rotate(-45.01) scale(1.052 1.025)" text-anchor="start" dy="0.358em">900</text>
<text transform="translate(805.88 211.25) rotate(-43.33) scale(1.049 1.026)" text-anchor="start" dy="0.358em">1000</text>
<text transform="translate(814.19 220.33) rotate(-41.65) scale(1.047 1.028)" text-anchor="start" dy="0.358em">1100</text>
<text transform="translate(822.23 229.64) rotate(-39.98) scale(1.044 1.029)" text-anchor="start" dy="0.358em">1200</text>
<text transform="translate(830 239.19) rotate(-38.3) scale(1.041 1.031)" text-anchor="start" dy="0.358em">1300</text>
<text transform="translate(837.49 248.96) rotate(-36.62) scale(1.039 1.032)" text-anchor="start" dy="0.358em">1400</text>
<text transform="translate(844.68 258.94) rotate(-34.95) scale(1.036 1.034)" text-anchor="start" dy="0.358em">1500</text>
<text transform="translate(851.59 269.13) rotate(-33.27) scale(1.033 1.035)" text-anchor="start" dy="0.358em">1600</text>
<text transform="translate(858.19 279.52) rotate(-31.59) scale(1.030 1.036)" text-anchor="start" dy="0.358em">1700</text>
<text transform="translate(864.48 290.1) rotate(-29.91) scale(1.027 1.038)" text-anchor="start" dy="0.358em">1800</text>
<text transform="translate(880.09 319.94) rotate(-25.32) scale(1.018 1.041)" text-anchor="start" dy="0.358em">100</text>
<text transform="translate(885.2 331.14) rotate(-23.65) scale(1.015 1.042)" text-anchor="start" dy="0.358em">200</text>
<text transform="translate(889.97 342.49) rotate(-21.97) scale(1.012 1.043)" text-anchor="start" dy="0.358em">300</text>
<text transform="translate(894.4 353.97) rotate(-20.29) scale(1.008 1.044)" text-anchor="start" dy="0.358em">400</text>
<text transform="translate(898.5 365.57) rotate(-18.61) scale(1.005 1.045)" text-anchor="start" dy="0.358em">500</text>
<text transform="translate(902.26 377.29) rotate(-16.94) scale(1.002 1.046)" text-anchor="start" dy="0.358em">600</text>
<text transform="translate(905.67 389.12) rotate(-15.26) scale(0.998 1.047)" text-anchor="start" dy="0.358em">700</text>
<text transform="translate(908.74 401.04) rotate(-13.58) scale(0.995 1.047)" text-anchor="start" dy="0.358em">800</text>
<text transform="translate(911.45 413.04) rotate(-11.91) scale(0.991 1.048)" text-anchor="start" dy="0.358em">900</text>
<text transform="translate(913.82 425.12) rotate(-10.23) scale(0.988 1.048)" text-anchor="start" dy="0.358em">1000</text>
<text transform="translate(915.82 437.26) rotate(-8.55) scale(0.985 1.049)" text-anchor="start" dy="0.358em">1100</text>
<text transform="translate(917.48 449.46) rotate(-6.88) scale(0.981 1.049)" text-anchor="start" dy="0.358em">1200</text>
<text transform="translate(918.77 461.7) rotate(-5.2) scale(0.977 1.050)" text-anchor="start" dy="0.358em">1300</text>
<text transform="translate(919.71 473.97) rotate(-3.52) scale(0.974 1.050)" text-anchor="start" dy="0.358em">1400</text>
<text transform="translate(920.28 486.26) rotate(-1.84) scale(0.970 1.050)" text-anchor="start" dy="0.358em">1500</text>
<text transform="translate(920.14 517.24) rotate(2.38) scale(0.972 1.050)" text-anchor="start" dy="0.358em">100</text>
<text transform="translate(919.45 529.53) rotate(4.05) scale(0.975 1.050)" text-anchor="start" dy="0.358em">200</text>
<text transform="translate(918.4 541.79) rotate(5.73) scale(0.979 1.050)" text-anchor="start" dy="0.358em">300</text>
<text transform="translate(916.99 554.02) rotate(7.41) scale(0.982 1.049)" text-anchor="start" dy="0.358em">400</text>
<text transform="translate(915.22 566.2) rotate(9.09) scale(0.986 1.049)" text-anchor="start" dy="0.358em">500</text>
<text transform="translate(913.1 578.32) rotate(10.76) scale(0.989 1.048)" text-anchor="start" dy="0.358em">600</text>
<text transform="translate(910.63 590.38) rotate(12.44) scale(0.993 1.048)" text-anchor="start" dy="0.358em">700</text>
<text transform="translate(907.8 602.35) rotate(14.12) scale(0.996 1.047)" text-anchor="start" dy="0.358em">800</text>
<text transform="translate(904.63 614.24) rotate(15.79) scale(0.999 1.046)" text-anchor="start" dy="0.358em">900</text>
<text transform="translate(901.1 626.04) rotate(17.47) scale(1.003 1.045)" text-anchor="start" dy="0.358em">1000</text>
<text transform="translate(897.24 637.72) rotate(19.15) scale(1.006 1.045)" text-anchor="start" dy="0.358em">1100</text>
<text transform="translate(893.03 649.29) rotate(20.82) scale(1.009 1.044)" text-anchor="start" dy="0.358em">1200</text>
<text transform="translate(888.49 660.73) rotate(22.5) scale(1.013 1.043)" text-anchor="start" dy="0.358em">1300</text>
<text transform="translate(883.61 672.03) rotate(24.18) scale(1.016 1.042)" text-anchor="start" dy="0.358em">1400</text>
<text transform="translate(878.41 683.18) rotate(25.86) scale(1.019 1.040)" text-anchor="start" dy="0.358em">1500</text>
<text transform="translate(872.88 694.17) rotate(27.53) scale(1.022 1.039)" text-anchor="start" dy="0.358em">1600</text>
<text transform="translate(867.03 705) rotate(29.21) scale(1.026 1.038)" text-anchor="start" dy="0.358em">1700</text>
<text transform="translate(860.87 715.66) rotate(30.89) scale(1.029 1.037)" text-anchor="start" dy="0.358em">1800</text>
<text transform="translate(854.4 726.12) rotate(32.56) scale(1.032 1.036)" text-anchor="start" dy="0.358em">1900</text>
<text transform="translate(847.62 736.4) rotate(34.24) scale(1.035 1.034)" text-anchor="start" dy="0.358em">2000</text>
<text transform="translate(840.55 746.47) rotate(35.92) scale(1.037 1.033)" text-anchor="start" dy="0.358em">2100</text>
<text transform="translate(833.18 756.33) rotate(37.59) scale(1.040 1.031)" text-anchor="start" dy="0.358em">2200</text>
<text transform="translate(825.53 765.97) rotate(39.27) scale(1.043 1.030)" text-anchor="start" dy="0.358em">2300</text>
<text transform="translate(817.61 775.38) rotate(40.95) scale(1.046 1.029)" text-anchor="start" dy="0.358em">2400</text>
<text transform="translate(809.4 784.56) rotate(42.62) scale(1.048 1.027)" text-anchor="start" dy="0.358em">2500</text>
<text transform="translate(800.94 793.49) rotate(44.3) scale(1.051 1.026)" text-anchor="start" dy="0.358em">2600</text>
<text transform="translate(780.4 813.16) rotate(48.18) scale(1.057 1.022)" text-anchor="start" dy="0.358em">100</text>
<text transform="translate(771.11 821.23) rotate(49.85) scale(1.059 1.021)" text-anchor="start" dy="0.358em">200</text>
<text transform="translate(761.59 829.03) rotate(51.53) scale(1.059 1.019)" text-anchor="start" dy="0.358em">300</text>
<text transform="translate(751.84 836.54) rotate(53.21) scale(1.059 1.018)" text-anchor="start" dy="0.358em">400</text>
<text transform="translate(741.88 843.77) rotate(54.88) scale(1.059 1.017)" text-anchor="start" dy="0.358em">500</text>
<text transform="translate(712.93 862.4) rotate(59.58) scale(1.059 1.013)" text-anchor="start" dy="0.358em">100</text>
<text transform="translate(702.23 868.48) rotate(61.25) scale(1.059 1.012)" text-anchor="start" dy="0.358em">200</text>
<text transform="translate(691.35 874.24) rotate(62.93) scale(1.059 1.010)" text-anchor="start" dy="0.358em">300</text>
<text transform="translate(680.31 879.68) rotate(64.61) scale(1.059 1.009)" text-anchor="start" dy="0.358em">400</text>
<text transform="translate(669.12 884.79) rotate(66.28) scale(1.059 1.008)" text-anchor="start" dy="0.358em">500</text>
<text transform="translate(657.78 889.58) rotate(67.96) scale(1.059 1.007)" text-anchor="start" dy="0.358em">600</text>
<text transform="translate(646.31 894.03) rotate(69.64) scale(1.059 1.006)" text-anchor="start" dy="0.358em">700</text>
<text transform="translate(634.71 898.14) rotate(71.32) scale(1.059 1.005)" text-anchor="start" dy="0.358em">800</text>
<text transform="translate(622.99 901.91) rotate(72.99) scale(1.059 1.004)" text-anchor="start" dy="0.358em">900</text>
<text transform="translate(611.17 905.34) rotate(74.67) scale(1.059 1.003)" text-anchor="start" dy="0.358em">1000</text>
<text transform="translate(599.26 908.42) rotate(76.35) scale(1.059 1.003)" text-anchor="start" dy="0.358em">1100</text>
<text transform="translate(587.25 911.15) rotate(78.02) scale(1.059 1.002)" text-anchor="start" dy="0.358em">1200</text>
<text transform="translate(575.18 913.52) rotate(79.7) scale(1.059 1.002)" text-anchor="start" dy="0.358em">1300</text>
<text transform="translate(563.04 915.55) rotate(81.38) scale(1.059 1.001)" text-anchor="start" dy="0.358em">1400</text>
<text transform="translate(550.85 917.21) rotate(83.06) scale(1.059 1.001)" text-anchor="start" dy="0.358em">1500</text>
<text transform="translate(538.61 918.52) rotate(84.73) scale(1.059 1.000)" text-anchor="start" dy="0.358em">1600</text>
<text transform="translate(526.34 919.47) rotate(86.41) scale(1.059 1.000)" text-anchor="start" dy="0.358em">1700</text>
<text transform="translate(514.04 920.07) rotate(88.09) scale(1.059 1.000)" text-anchor="start" dy="0.358em">1800</text>
<text transform="translate(501.74 920.3) rotate(89.76) scale(1.059 1.000)" text-anchor="start" dy="0.358em">1900</text>
<text transform="translate(489.43 920.17) rotate(271.44) scale(1.059 1.000)" text-anchor="end" dy="0.358em">2000</text>
<text transform="translate(477.14 919.68) rotate(273.12) scale(1.059 1.000)" text-anchor="end" dy="0.358em">2100</text>
<text transform="translate(464.86 918.83) rotate(274.79) scale(1.059 1.000)" text-anchor="end" dy="0.358em">2200</text>
<text transform="translate(452.61 917.62) rotate(276.47) scale(1.059 1.001)" text-anchor="end" dy="0.358em">2300</text>
<text transform="translate(440.4 916.06) rotate(278.15) scale(1.059 1.001)" text-anchor="end" dy="0.358em">2400</text>
<text transform="translate(403.79 909.14) rotate(283.23) scale(1.059 1.003)" text-anchor="end" dy="0.358em">100</text>
<text transform="translate(391.85 906.15) rotate(284.9) scale(1.059 1.003)" text-anchor="end" dy="0.358em">200</text>
<text transform="translate(380 902.81) rotate(286.58) scale(1.059 1.004)" text-anchor="end" dy="0.358em">300</text>
<text transform="translate(368.26 899.13) rotate(288.26) scale(1.059 1.005)" text-anchor="end" dy="0.358em">400</text>
<text transform="translate(356.63 895.1) rotate(289.94) scale(1.059 1.006)" text-anchor="end" dy="0.358em">500</text>
<text transform="translate(345.12 890.74) rotate(291.61) scale(1.059 1.007)" text-anchor="end" dy="0.358em">600</text>
<text transform="translate(333.75 886.04) rotate(293.29) scale(1.059 1.008)" text-anchor="end" dy="0.358em">700</text>
<text transform="translate(322.52 881.01) rotate(294.97) scale(1.059 1.009)" text-anchor="end" dy="0.358em">800</text>
<text transform="translate(311.44 875.65) rotate(296.64) scale(1.059 1.010)" text-anchor="end" dy="0.358em">900</text>
<text transform="translate(300.52 869.97) rotate(298.32) scale(1.059 1.011)" text-anchor="end" dy="0.358em">1000</text>
<text transform="translate(289.77 863.97) rotate(300) scale(1.059 1.012)" text-anchor="end" dy="0.358em">1100</text>
<text transform="translate(279.2 857.67) rotate(301.67) scale(1.059 1.014)" text-anchor="end" dy="0.358em">1200</text>
<text transform="translate(268.82 851.05) rotate(303.35) scale(1.059 1.015)" text-anchor="end" dy="0.358em">1300</text>
<text transform="translate(242.7 832.39) rotate(307.73) scale(1.059 1.019)" text-anchor="end" dy="0.358em">100</text>
<text transform="translate(233.07 824.72) rotate(309.4) scale(1.059 1.020)" text-anchor="end" dy="0.358em">200</text>
<text transform="translate(223.68 816.77) rotate(311.08) scale(1.058 1.022)" text-anchor="end" dy="0.358em">300</text>
<text transform="translate(214.52 808.54) rotate(312.76) scale(1.055 1.023)" text-anchor="end" dy="0.358em">400</text>
<text transform="translate(205.61 800.06) rotate(314.44) scale(1.053 1.025)" text-anchor="end" dy="0.358em">500</text>
<text transform="translate(196.95 791.31) rotate(316.11) scale(1.050 1.026)" text-anchor="end" dy="0.358em">600</text>
<text transform="translate(188.55 782.32) rotate(317.79) scale(1.048 1.027)" text-anchor="end" dy="0.358em">700</text>
<text transform="translate(180.41 773.08) rotate(319.47) scale(1.045 1.029)" text-anchor="end" dy="0.358em">800</text>
<text transform="translate(172.55 763.61) rotate(321.14) scale(1.042 1.030)" text-anchor="end" dy="0.358em">900</text>
<text transform="translate(164.97 753.92) rotate(322.82) scale(1.040 1.032)" text-anchor="end" dy="0.358em">1000</text>
<text transform="translate(157.68 744) rotate(324.5) scale(1.037 1.033)" text-anchor="end" dy="0.358em">1100</text>
<text transform="translate(140.79 718.4) rotate(328.68) scale(1.029 1.036)" text-anchor="end" dy="0.358em">100</text>
<text transform="translate(134.54 707.8) rotate(330.35) scale(1.026 1.038)" text-anchor="end" dy="0.358em">200</text>
<text transform="translate(119.91 679.66) rotate(334.68) scale(1.018 1.041)" text-anchor="end" dy="0.358em">100</text>
<text transform="translate(114.8 668.46) rotate(336.35) scale(1.015 1.042)" text-anchor="end" dy="0.358em">200</text>
<text transform="translate(110.03 657.11) rotate(338.03) scale(1.012 1.043)" text-anchor="end" dy="0.358em">300</text>
<text transform="translate(105.6 645.63) rotate(339.71) scale(1.008 1.044)" text-anchor="end" dy="0.358em">400</text>
<text transform="translate(101.5 634.03) rotate(341.38) scale(1.005 1.045)" text-anchor="end" dy="0.358em">500</text>
<text transform="translate(97.74 622.31) rotate(343.06) scale(1.002 1.046)" text-anchor="end" dy="0.358em">600</text>
<text transform="translate(94.33 610.48) rotate(344.74) scale(0.998 1.047)" text-anchor="end" dy="0.358em">700</text>
<text transform="translate(91.26 598.56) rotate(346.42) scale(0.995 1.047)" text-anchor="end" dy="0.358em">800</text>
<text transform="translate(88.55 586.56) rotate(348.09) scale(0.991 1.048)" text-anchor="end" dy="0.358em">900</text>
<text transform="translate(86.18 574.48) rotate(349.77) scale(0.988 1.048)" text-anchor="end" dy="0.358em">1000</text>
<text transform="translate(84.18 562.34) rotate(351.45) scale(0.985 1.049)" text-anchor="end" dy="0.358em">1100</text>
<text transform="translate(82.52 550.14) rotate(353.12) scale(0.981 1.049)" text-anchor="end" dy="0.358em">1200</text>
<text transform="translate(81.23 537.9) rotate(354.8) scale(0.977 1.050)" text-anchor="end" dy="0.358em">1300</text>
<text transform="translate(79.58 508.04) rotate(358.88) scale(0.969 1.050)" text-anchor="end" dy="0.358em">100</text>
<text transform="translate(79.52 495.73) rotate(360.55) scale(0.968 1.050)" text-anchor="end" dy="0.358em">200</text>
<text transform="translate(79.82 483.43) rotate(362.23) scale(0.971 1.050)" text-anchor="end" dy="0.358em">300</text>
<text transform="translate(80.48 471.14) rotate(363.91) scale(0.975 1.050)" text-anchor="end" dy="0.358em">400</text>
<text transform="translate(81.5 458.88) rotate(365.58) scale(0.978 1.050)" text-anchor="end" dy="0.358em">500</text>
<text transform="translate(82.87 446.65) rotate(367.26) scale(0.982 1.049)" text-anchor="end" dy="0.358em">600</text>
<text transform="translate(87.19 419.73) rotate(370.98) scale(0.990 1.048)" text-anchor="end" dy="0.358em">100</text>
<text transform="translate(89.71 407.68) rotate(372.65) scale(0.993 1.048)" text-anchor="end" dy="0.358em">200</text>
<text transform="translate(92.59 395.72) rotate(374.33) scale(0.996 1.047)" text-anchor="end" dy="0.358em">300</text>
<text transform="translate(95.81 383.84) rotate(376.01) scale(1.000 1.046)" text-anchor="end" dy="0.358em">400</text>
<text transform="translate(99.37 372.06) rotate(377.69) scale(1.003 1.045)" text-anchor="end" dy="0.358em">500</text>
<text transform="translate(103.28 360.39) rotate(379.36) scale(1.007 1.045)" text-anchor="end" dy="0.358em">600</text>
<text transform="translate(107.53 348.84) rotate(381.04) scale(1.010 1.044)" text-anchor="end" dy="0.358em">700</text>
<text transform="translate(112.12 337.42) rotate(382.72) scale(1.013 1.043)" text-anchor="end" dy="0.358em">800</text>
<text transform="translate(117.04 326.14) rotate(384.39) scale(1.016 1.041)" text-anchor="end" dy="0.358em">900</text>
<text transform="translate(122.28 315) rotate(386.07) scale(1.020 1.040)" text-anchor="end" dy="0.358em">1000</text>
<text transform="translate(127.85 304.03) rotate(387.75) scale(1.023 1.039)" text-anchor="end" dy="0.358em">1100</text>
<text transform="translate(133.74 293.22) rotate(389.42) scale(1.026 1.038)" text-anchor="end" dy="0.358em">1200</text>
<text transform="translate(148.85 268.46) rotate(393.38) scale(1.033 1.035)" text-anchor="end" dy="0.358em">100</text>
<text transform="translate(155.77 258.29) rotate(395.05) scale(1.036 1.034)" text-anchor="end" dy="0.358em">200</text>
<text transform="translate(162.99 248.32) rotate(396.73) scale(1.039 1.032)" text-anchor="end" dy="0.358em">300</text>
<text transform="translate(178.71 228.51) rotate(400.18) scale(1.044 1.029)" text-anchor="end" dy="0.358em">100</text>
<text transform="translate(186.79 219.23) rotate(401.85) scale(1.047 1.028)" text-anchor="end" dy="0.358em">200</text>
<text transform="translate(205.67 199.48) rotate(405.58) scale(1.053 1.024)" text-anchor="end" dy="0.358em">100</text>
<text transform="translate(214.59 191) rotate(407.25) scale(1.055 1.023)" text-anchor="end" dy="0.358em">200</text>
<text transform="translate(223.75 182.78) rotate(408.93) scale(1.058 1.022)" text-anchor="end" dy="0.358em">300</text>
<text transform="translate(233.14 174.83) rotate(410.61) scale(1.059 1.020)" text-anchor="end" dy="0.358em">400</text>
<text transform="translate(242.77 167.16) rotate(412.28) scale(1.059 1.019)" text-anchor="end" dy="0.358em">500</text>
<text transform="translate(252.61 159.77) rotate(413.96) scale(1.059 1.017)" text-anchor="end" dy="0.358em">600</text>
<text transform="translate(279.52 141.74) rotate(418.38) scale(1.059 1.014)" text-anchor="end" dy="0.358em">100</text>
<text transform="translate(290.09 135.44) rotate(420.05) scale(1.059 1.012)" text-anchor="end" dy="0.358em">200</text>
<text transform="translate(300.85 129.45) rotate(421.73) scale(1.059 1.011)" text-anchor="end" dy="0.358em">300</text>
<text transform="translate(311.77 123.78) rotate(423.41) scale(1.059 1.010)" text-anchor="end" dy="0.358em">400</text>
<text transform="translate(322.85 118.43) rotate(425.08) scale(1.059 1.009)" text-anchor="end" dy="0.358em">500</text>
<text transform="translate(334.09 113.41) rotate(426.76) scale(1.059 1.008)" text-anchor="end" dy="0.358em">600</text>
<text transform="translate(345.47 108.72) rotate(428.44) scale(1.059 1.007)" text-anchor="end" dy="0.358em">700</text>
<text transform="translate(356.98 104.37) rotate(430.12) scale(1.059 1.006)" text-anchor="end" dy="0.358em">800</text>
<text transform="translate(368.61 100.35) rotate(431.79) scale(1.059 1.005)" text-anchor="end" dy="0.358em">900</text>
<text transform="translate(380.36 96.68) rotate(433.47) scale(1.059 1.004)" text-anchor="end" dy="0.358em">1000</text>
<text transform="translate(392.21 93.35) rotate(435.15) scale(1.059 1.003)" text-anchor="end" dy="0.358em">1100</text>
<text transform="translate(404.15 90.37) rotate(436.82) scale(1.059 1.003)" text-anchor="end" dy="0.358em">1200</text>
<text transform="translate(416.17 87.74) rotate(438.5) scale(1.059 1.002)" text-anchor="end" dy="0.358em">1300</text>
<text transform="translate(428.27 85.46) rotate(440.18) scale(1.059 1.001)" text-anchor="end" dy="0.358em">1400</text>
<text transform="translate(440.42 83.54) rotate(441.86) scale(1.059 1.001)" text-anchor="end" dy="0.358em">1500</text>
<text transform="translate(452.63 81.98) rotate(443.53) scale(1.059 1.001)" text-anchor="end" dy="0.358em">1600</text>
<text transform="translate(464.88 80.77) rotate(445.21) scale(1.059 1.000)" text-anchor="end" dy="0.358em">1700</text>
<text transform="translate(477.16 79.92) rotate(446.89) scale(1.059 1.000)" text-anchor="end" dy="0.358em">1800</text>
</g>
<g font-family="'Liberation Sans',sans-serif" font-size="11.2" fill="#2e2e2e" stroke="#fff" stroke-width="0.14" text-anchor="middle" opacity="0.999">
<text transform="translate(500 36.8) rotate(0) scale(0.88 1)" dy="0.35em">berenice_416</text>
<text transform="translate(580.38 45.56) rotate(10.04) scale(1.0 1)" dy="0.35em">TcDm25_Chr19_H1</text>
<text transform="translate(686.88 80.56) rotate(24.02) scale(1.0 1)" dy="0.35em">TcDm25_Chr19_H2_c4</text>
<text transform="translate(827.66 178.37) rotate(45.55) scale(1.0 1)" dy="0.35em">TcDm25_Chr32_H1</text>
<text transform="translate(945.37 388.76) rotate(76) scale(1.0 1)" dy="0.35em">TcDm25_Chr06_H2_c2</text>
<text transform="translate(923.44 676.93) rotate(-67.3) scale(1.0 1)" dy="0.35em">TcDm25_Chr30_H2_c1</text>
<text transform="translate(786.99 858.02) rotate(-38.7) scale(1.0 1)" dy="0.35em">TcDm25_Chr32_H2_c3</text>
<text transform="translate(588.76 950.14) rotate(-11.15) scale(1.0 1)" dy="0.35em">TcDm25_Chr30_H1_c1</text>
<text transform="translate(320.43 924.39) rotate(22.93) scale(1.0 1)" dy="0.35em">TcDm25_Chr05_H1</text>
<text transform="translate(170.49 822.2) rotate(45.62) scale(1.0 1)" dy="0.35em">TcDm25_Chr12_H1</text>
<text transform="translate(104.43 736.54) rotate(59.1) scale(1.0 1)" dy="0.35em">TcDm25_Chr19_H2_c3</text>
<text transform="translate(55.43 624.76) rotate(74.3) scale(1.0 1)" dy="0.35em">TcDm25_Chr09_H1</text>
<text transform="translate(38.61 480.46) rotate(272.4) scale(1.0 1)" dy="0.35em">TcDm25_Chr32_H2_c2</text>
<text transform="translate(64.96 344.89) rotate(289.6) scale(1.0 1)" dy="0.35em">TcDm25_Chr08_H1</text>
<text transform="translate(118.17 240.06) rotate(304.23) scale(1.0 1)" dy="0.35em">TcDm25_Chr03_H2_c3</text>
<text transform="translate(147.8 201.11) rotate(310.3) scale(1.0 1)" dy="0.35em">TcDm25_Chr03_H2_c2</text>
<text transform="translate(199.93 148.78) rotate(319.48) scale(1.0 1)" dy="0.35em">TcDm25_Chr03_H2_c1</text>
<text transform="translate(361.52 59.25) rotate(342.55) scale(1.0 1)" dy="0.35em">TcDm25_Chr03_H1</text>
</g>
</svg>
</body></html>
